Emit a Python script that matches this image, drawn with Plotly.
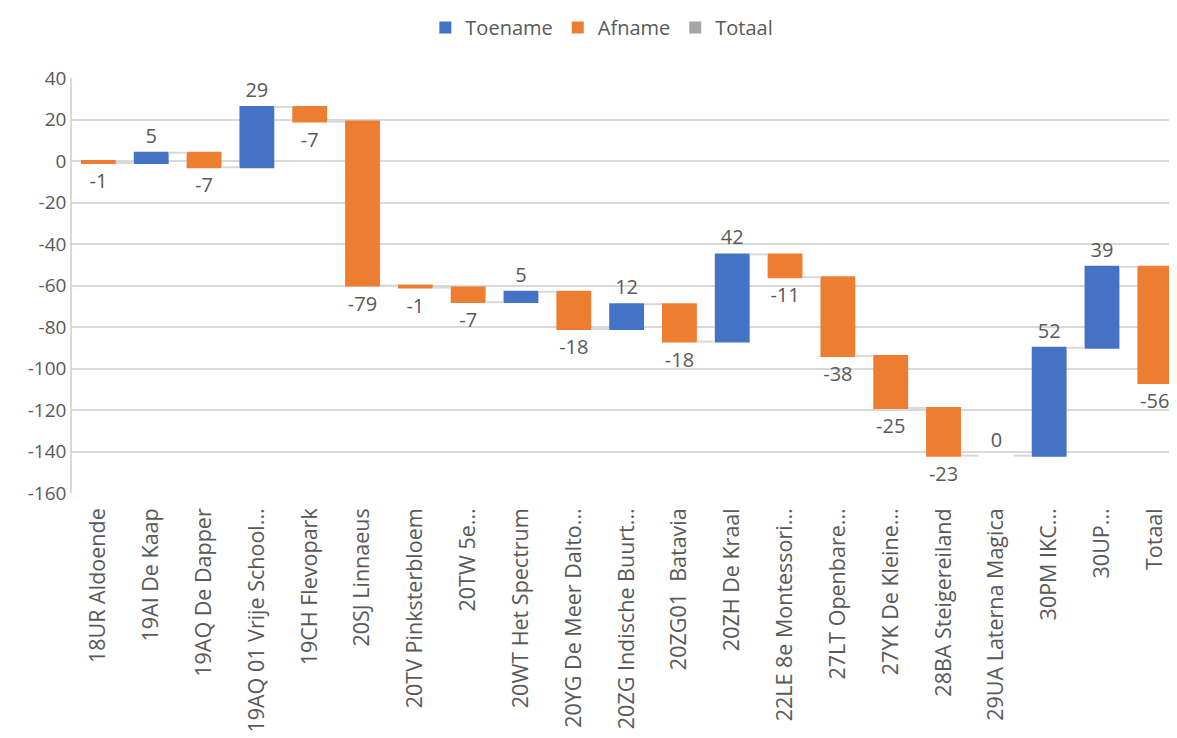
import plotly.graph_objects as go

categories = [
    "18UR Aldoende", "19AI De Kaap", "19AQ De Dapper", "19AQ 01 Vrije School...",
    "19CH Flevopark", "20SJ Linnaeus", "20TV Pinksterbloem", "20TW 5e...",
    "20WT Het Spectrum", "20YG De Meer Dalto...", "20ZG Indische Buurt...",
    "20ZG01  Batavia", "20ZH De Kraal", "22LE 8e Montessori...", "27LT Openbare...",
    "27YK De Kleine...", "28BA Steigereiland", "29UA Laterna Magica", "30PM IKC...",
    "30UP...", "Totaal",
]
values = [-1, 5, -7, 29, -7, -79, -1, -7, 5, -18, 12, -18, 42, -11, -38, -25, -23, 0, 52, 39, -56]
labels = [str(v) for v in values]
y_ticks = [40, 20, 0, -20, -40, -60, -80, -100, -120, -140, -160]

BLUE = "#4472C4"
ORANGE = "#ED7D31"
GRAY = "#A5A5A5"
TXT = "#595959"
FONT = "Open Sans"

measures = ["relative"] * len(values)

fig = go.Figure()
fig.add_trace(go.Waterfall(
    x=categories, y=values, measure=measures,
    text=labels, textposition="outside",
    textfont=dict(family=FONT, size=20, color=TXT),
    increasing=dict(marker=dict(color=BLUE, line=dict(width=0))),
    decreasing=dict(marker=dict(color=ORANGE, line=dict(width=0))),
    totals=dict(marker=dict(color=GRAY)),
    connector=dict(line=dict(color="#D9D9D9", width=2)),
    showlegend=False, cliponaxis=False,
))

for name, col in [("Toename", BLUE), ("Afname", ORANGE), ("Totaal", GRAY)]:
    fig.add_trace(go.Scatter(
        x=[None], y=[None], mode="markers", name=name,
        marker=dict(symbol="square", size=16, color=col),
    ))

# page body has an 8px margin, so the figure is sized/offset to compensate
fig.update_layout(
    width=1169, height=730,
    margin=dict(l=64, r=0, t=70, b=245, autoexpand=False),
    paper_bgcolor="white", plot_bgcolor="white",
    waterfallgap=0.34,
    font=dict(family=FONT, size=19, color=TXT),
    legend=dict(orientation="h", xref="container", yref="container",
                x=0.508, y=1.0, xanchor="center", yanchor="top",
                font=dict(family=FONT, size=20, color=TXT),
                itemsizing="constant", traceorder="normal"),
    xaxis=dict(type="category", range=[-0.5, 20.42], tickangle=-90,
               showgrid=False, showline=False, ticks="", automargin=False,
               ticklabelstandoff=10,
               tickfont=dict(family=FONT, size=21.5, color=TXT)),
    yaxis=dict(range=[-160, 40], tickvals=y_ticks, ticktext=[str(t) for t in y_ticks],
               showgrid=True, gridcolor="#D9D9D9", gridwidth=1.5, automargin=False,
               zeroline=False, showline=True, linecolor="#D9D9D9", linewidth=1.5,
               ticks="", tickfont=dict(family=FONT, size=19, color=TXT)),
)

fig.write_html("out.html")
